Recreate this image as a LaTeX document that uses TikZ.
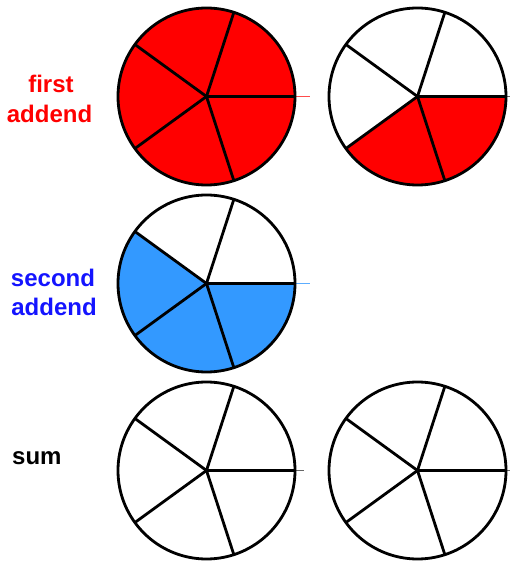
\documentclass[tikz,border=0pt]{standalone}
\usepackage{fontspec}
\usetikzlibrary{calc}
\setmainfont{Liberation Sans}
\definecolor{addred}{RGB}{255,0,0}
\definecolor{addblue}{RGB}{51,153,255}
\definecolor{txtblue}{RGB}{20,20,255}
\newcommand\mypiespokes[1]{%
  \foreach \a in {72,144,216,288} \draw[spoke] (#1) -- ++(\a:88.5);
  \draw[spoke] (#1) -- ++(0:88.5);
  \draw[rim] (#1) circle[radius=88.5];}
\begin{document}
\begin{tikzpicture}[x=1pt,y=1pt,
  rim/.style={line width=2.8pt},
  spoke/.style={line width=2.8pt},
  stub/.style={line width=1.5pt},
  lbl/.style={font=\fontsize{24}{30}\selectfont\bfseries, inner sep=0pt, anchor=base}]
\useasboundingbox (0,0) rectangle (510,563);
\coordinate (c1) at (206.5,466.5);
\coordinate (c2) at (417.5,466.5);
\coordinate (c3) at (206.5,279.5);
\coordinate (c4) at (206.5,92.5);
\coordinate (c5) at (417.5,92.5);
% stubs beyond the rim
\coordinate (s1) at ($(c1)+(103,0)$);
\draw[stub, addred!70] (c1) -- (s1);
\coordinate (s3) at ($(c3)+(103,0)$);
\draw[stub, addblue!80] (c3) -- (s3);
\coordinate (s2) at ($(c2)+(92,0)$);
\draw[stub, black!60] (c2) -- (s2);
\coordinate (s4) at ($(c4)+(97,0)$);
\draw[stub, black!60] (c4) -- (s4);
\coordinate (s5) at ($(c5)+(92,0)$);
\draw[stub, black!60] (c5) -- (s5);
% fills
\fill[addred] (c1) circle[radius=88.5];
\fill[addred] (c2) -- ++(216:88.5) arc[start angle=216, end angle=360, radius=88.5] -- cycle;
\fill[addblue] (c3) -- ++(144:88.5) arc[start angle=144, end angle=360, radius=88.5] -- cycle;
% outlines
\mypiespokes{c1}
\mypiespokes{c2}
\mypiespokes{c3}
\mypiespokes{c4}
\mypiespokes{c5}
% labels
\node[lbl, text=addred] (l1a) at (51,470) {first};
\node[lbl, text=addred] (l1b) at (49.5,440) {addend};
\node[lbl, text=txtblue] (l2a) at (53,276) {second};
\node[lbl, text=txtblue] (l2b) at (54,247) {addend};
\node[lbl, anchor=base west] (l3) at (12,98) {sum};
\end{tikzpicture}
\end{document}
